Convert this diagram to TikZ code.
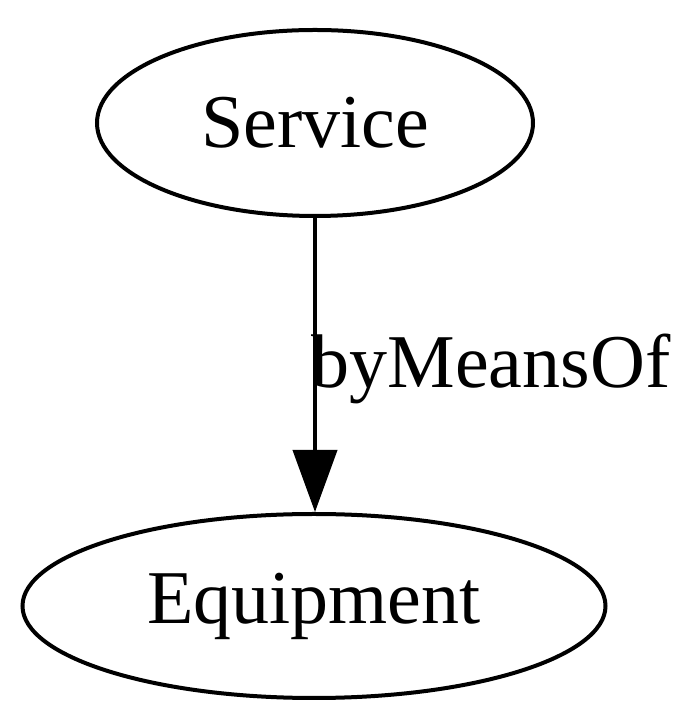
\documentclass[tikz,border=0pt]{standalone}
\usepackage{fontspec}
\setmainfont{Liberation Serif}
\usetikzlibrary{arrows.meta,shapes.geometric}
\begin{document}
\begin{tikzpicture}[x=1pt,y=1pt,
  gnode/.style={draw,ellipse,line width=4pt,inner sep=0pt},
  glabel/.style={font=\fontsize{76}{82}\selectfont},
  garrow/.style={line width=4pt,-{Triangle[length=62pt,width=44pt]}}]
\useasboundingbox (0,0) rectangle (700,727);
\node[gnode,minimum width=436pt,minimum height=186pt,glabel] (service) at (315,604) {Service};
\node[gnode,minimum width=583pt,minimum height=184pt,glabel] (equip) at (314,121) {Equipment};
\draw[garrow] (service.south) -- (service.south |- equip.north);
\node[glabel,inner sep=0pt,anchor=base] (lbl) at (491,339) {byMeansOf};
\end{tikzpicture}
\end{document}
